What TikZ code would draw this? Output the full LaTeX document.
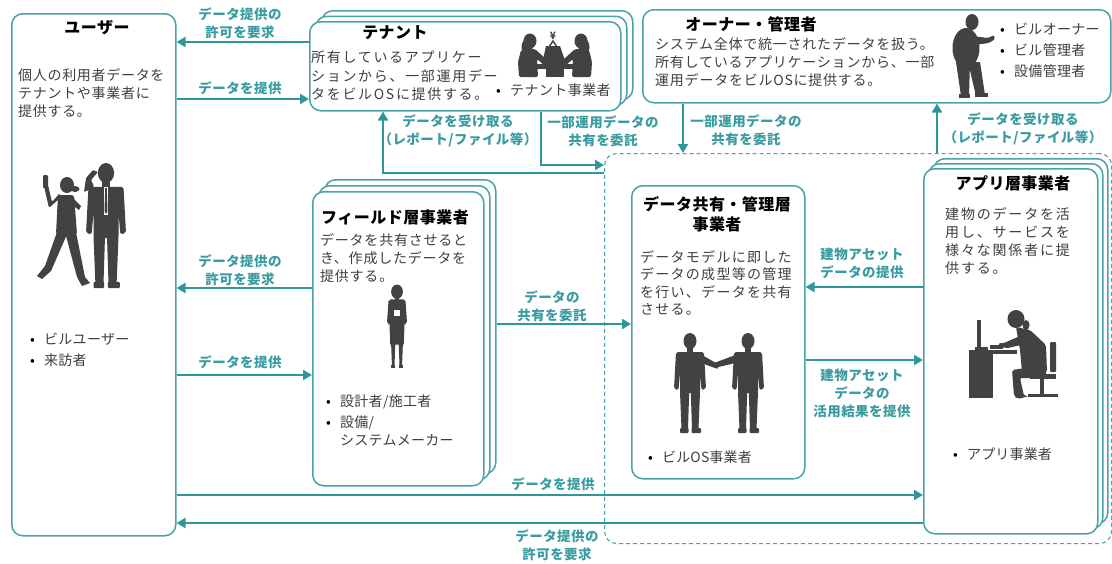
\documentclass[tikz,border=0pt]{standalone}
\usepackage{fontspec}
\setmainfont{Noto Sans CJK JP}
\usetikzlibrary{arrows.meta}

\definecolor{frame}{HTML}{4AA3A8}
\definecolor{flowc}{HTML}{2E979B}
\definecolor{lblc}{HTML}{3A9CA1}
\definecolor{ink}{HTML}{3F3F3F}
\definecolor{figc}{HTML}{424242}

% body text with a little extra tracking
\newcommand{\bodyset}[1]{\fontsize{14}{18}\selectfont\addfontfeatures{LetterSpace=#1}}
% bullet item
\newcommand{\bul}[1]{\makebox[14pt][l]{\textcolor{black}{•}}#1}

\tikzset{
  panel/.style={draw=frame, line width=1.5pt, rounded corners=11pt, fill=white,
    inner sep=0pt, anchor=north west},
  zonebox/.style={draw=frame, line width=1.1pt, dash pattern=on 4pt off 3pt,
    rounded corners=12pt, inner sep=0pt, anchor=north west},
  heading/.style={font=\fontsize{16}{20}\selectfont\bfseries\addfontfeatures{LetterSpace=3},
    text=black, inner sep=0pt, align=center},
  body/.style={text=ink, align=left, inner sep=0pt, anchor=north west},
  lab/.style={font=\fontsize{13.5}{18}\selectfont\bfseries\addfontfeatures{LetterSpace=3.5},
    text=lblc, align=center, inner sep=0pt},
  flow/.style={draw=flowc, line width=2.8pt, -{Triangle[length=9pt,width=10pt]}},
  silhouette/.style={fill=figc},
  % standing man in a suit, 100 units tall, origin at top of head
  man/.pic={
    \fill[silhouette] (0,8) ellipse [x radius=6.5, y radius=8];
    \fill[silhouette] (-3,14) rectangle (3,19);
    \fill[silhouette, rounded corners=2pt] (-14,19) -- (14,19) -- (16,56) -- (11.5,57)
      -- (10,40) -- (10,60) -- (-10,60) -- (-10,40) -- (-11.5,57) -- (-16,56) -- cycle;
    \fill[silhouette] (-10,59) -- (-0.8,59) -- (-2,96) -- (-8.5,96) -- cycle;
    \fill[silhouette] (0.8,59) -- (10,59) -- (8.5,96) -- (2,96) -- cycle;
    \fill[silhouette, rounded corners=1pt] (-10,95) rectangle (-1.5,100);
    \fill[silhouette, rounded corners=1pt] (1.5,95) rectangle (11,100);
  },
  % standing woman in a skirt suit, 100 units tall
  woman/.pic={
    \fill[silhouette] (0,8) ellipse [x radius=7, y radius=8.5];
    \fill[silhouette] (-2.5,14) rectangle (2.5,18);
    \fill[silhouette, rounded corners=2pt] (-10,17) -- (10,17) -- (12,46) -- (8.5,47)
      -- (8,32) -- (9,48) -- (-9,48) -- (-8,32) -- (-8.5,47) -- (-12,46) -- cycle;
    \fill[white] (-4,30) rectangle (3,37);
    \fill[silhouette] (-9,46) -- (9,46) -- (8,71) -- (-8,71) -- cycle;
    \fill[silhouette] (-7,70) -- (-2,70) -- (-3,96) -- (-6,96) -- cycle;
    \fill[silhouette] (2,70) -- (7,70) -- (6,96) -- (3,96) -- cycle;
    \fill[silhouette] (-7,95) rectangle (-2,99);
    \fill[silhouette] (2,95) rectangle (7,99);
  },
}

\begin{document}
\begin{tikzpicture}[x=1pt, y=-1pt]
\useasboundingbox (0,0) rectangle (1112,563);

% ---------- dashed area of the platform layers ----------
\node[zonebox, minimum width=507, minimum height=390] (zone) at (604,153) {};

% ---------- boxes ----------
\node[panel, minimum width=164, minimum height=522] (user) at (11,13) {};

\node[panel, minimum width=311, minimum height=89] (tenant3) at (321,10) {};
\node[panel, minimum width=311, minimum height=89] (tenant2) at (315,15.5) {};
\node[panel, minimum width=311, minimum height=89] (tenant) at (309,21) {};

\node[panel, minimum width=468, minimum height=93] (owner) at (642,9) {};

\node[panel, minimum width=171, minimum height=294] (field3) at (324,179) {};
\node[panel, minimum width=171, minimum height=294] (field2) at (318,185) {};
\node[panel, minimum width=171, minimum height=294] (field) at (312,191) {};

\node[panel, minimum width=173, minimum height=293] (share) at (631,185) {};

\node[panel, minimum width=174, minimum height=365] (app3) at (933,158) {};
\node[panel, minimum width=174, minimum height=365] (app2) at (928,163) {};
\node[panel, minimum width=174, minimum height=365] (app) at (923,168) {};

% ---------- user ----------
\node[heading] (userT) at (97,28) {ユーザー};
\node[body, font=\bodyset{5}] (userB) at (18,68)
  {個人の利用者データを\\テナントや事業者に\\提供する。};
\node[body, font=\bodyset{2}] (userL) at (30,333) {\bul{ビルユーザー}\\[3pt]\bul{来訪者}};

% walking woman
\fill[silhouette] (67,185) ellipse [x radius=7, y radius=8];
\fill[silhouette] (75,189) ellipse [x radius=4.5, y radius=3];
\fill[silhouette, rounded corners=2pt] (58,195) -- (74,195) -- (77,234) -- (56,234) -- cycle;
\fill[silhouette, rounded corners=1.5pt] (60,198) -- (49,208) -- (44,186) -- (48,185)
  -- (52,202) -- (60,193) -- cycle;
\fill[silhouette, rounded corners=1pt] (43,175) rectangle (48,188);
\fill[silhouette] (73,198) -- (81,206) -- (79,210) -- (71,204) -- cycle;
\fill[silhouette] (57,232) -- (68,232) -- (51,271) -- (42,279) -- (37,276) -- (45,266) -- cycle;
\fill[silhouette] (65,232) -- (76,232) -- (85,277) -- (90,283) -- (82,286) -- (77,277) -- cycle;
% man on the phone
\pic[scale=1.25] at (106,163) {man};
\fill[silhouette, rounded corners=1pt] (91,189) -- (84,192) -- (86,178) -- (93,170) -- (98,172)
  -- (91,180) -- (94,186) -- cycle;
\fill[white] (104,187) -- (108,187) -- (108,215) -- (104,215) -- cycle;
\fill[silhouette] (105.2,188) -- (106.8,188) -- (107.5,211) -- (106,214) -- (104.5,211) -- cycle;

% ---------- tenant ----------
\node[heading] (tenantT) at (395,33) {テナント};
\node[body, font=\fontsize{14}{18.5}\selectfont\addfontfeatures{LetterSpace=12}] (tenantB) at (311,51)
  {所有しているアプリケー\\ションから、一部運用デー\\タをビルOSに提供する。};
\node[body, font=\bodyset{3}, anchor=west] (tenantL) at (496,90) {\bul{テナント事業者}};

\node[text=figc, font=\fontsize{10}{10}\selectfont\bfseries, inner sep=0pt] (yen) at (553,36) {¥};
% two seated women at a table
\fill[silhouette] (530,41) ellipse [x radius=6.5, y radius=7.5];
\fill[silhouette] (527,47) ellipse [x radius=5.5, y radius=8];
\fill[silhouette, rounded corners=1.5pt] (521,50) -- (535,49) -- (547,60) -- (544,65)
  -- (537,59) -- (538,77) -- (519,77) -- (518,62) -- cycle;
\fill[silhouette] (581,41) ellipse [x radius=6.5, y radius=7.5];
\fill[silhouette] (584,47) ellipse [x radius=5.5, y radius=8];
\fill[silhouette, rounded corners=1.5pt] (589,50) -- (575,49) -- (563,60) -- (566,65)
  -- (573,59) -- (572,77) -- (591,77) -- (592,62) -- cycle;
\fill[silhouette] (546,46) -- (560,46) -- (566,64) -- (542,64) -- cycle;
\draw[figc, line width=1.5pt] (549,47) -- (553,41) -- (557,47);
\fill[silhouette] (537,64) rectangle (573,68.5);
\fill[silhouette] (546,68) rectangle (564,77);

% ---------- owner ----------
\node[heading] (ownerT) at (751,24) {オーナー・管理者};
\node[body, font=\bodyset{5.5}] (ownerB) at (655,37)
  {システム全体で統一されたデータを扱う。\\所有しているアプリケーションから、一部\\運用データをビルOSに提供する。};
\node[body, font=\fontsize{14}{21}\selectfont\addfontfeatures{LetterSpace=2}] (ownerL) at (1000,23)
  {\bul{ビルオーナー}\\\bul{ビル管理者}\\\bul{設備管理者}};
% standing man gesturing
\fill[silhouette] (972,22) ellipse [x radius=6.5, y radius=8];
\fill[silhouette] (966,48) ellipse [x radius=13.5, y radius=20];
\fill[silhouette, rounded corners=1.5pt] (972,36) -- (988,38) -- (994,35) -- (995,39)
  -- (989,43) -- (974,45) -- cycle;
\fill[silhouette] (956,62) -- (970,62) -- (969,96) -- (961,96) -- cycle;
\fill[silhouette] (968,62) -- (980,62) -- (985,95) -- (976,96) -- cycle;
\fill[silhouette] (959,94) rectangle (970,98);
\fill[silhouette] (975,93) rectangle (988,97);

% ---------- field layer ----------
\node[heading] (fieldT) at (395,217) {フィールド層事業者};
\node[body, font=\bodyset{5.5}] (fieldB) at (320,233)
  {データを共有させると\\き、作成したデータを\\提供する。};
\pic[scale=0.84] at (397,285) {woman};
\node[body, font=\bodyset{2}] (fieldL) at (326,395)
  {\bul{設計者/施工者}\\[3pt]\bul{設備/}\\\hspace*{14pt}システムメーカー};

% ---------- data sharing layer ----------
\node[heading] (shareT) at (717,214) {データ共有・管理層\\事業者};
\node[body, font=\fontsize{14}{17.5}\selectfont\addfontfeatures{LetterSpace=9}] (shareB) at (640,250)
  {データモデルに即した\\データの成型等の管理\\を行い、データを共有\\させる。};
\node[body, font=\bodyset{1}, anchor=west] (shareL) at (648,457) {\bul{ビルOS事業者}};
% handshake
\pic at (690,333) {man};
\pic at (748,333) {man};
\fill[silhouette, rounded corners=1pt] (700,354) -- (718,364) -- (718,369) -- (698,362) -- cycle;
\fill[silhouette, rounded corners=1pt] (738,354) -- (714,363) -- (714,368) -- (740,362) -- cycle;

% ---------- application layer ----------
\node[heading] (appT) at (1013,183) {アプリ層事業者};
\node[body, font=\bodyset{13}] (appB) at (945,207)
  {建物のデータを活\\用し、サービスを\\様々な関係者に提\\供する。};
\node[body, font=\bodyset{1}, anchor=west] (appL) at (953,454) {\bul{アプリ事業者}};
% person working at a desk
\fill[silhouette] (969,350) rectangle (1017,354);
\fill[silhouette] (969,354) rectangle (993,398);
\fill[silhouette] (977,320) rectangle (981,348);
\fill[silhouette] (975,347) rectangle (988,350);
\fill[silhouette] (990,345) rectangle (1003,349);
\fill[silhouette] (1016,319) ellipse [x radius=8.5, y radius=9];
\fill[silhouette] (1026,325) ellipse [x radius=3.5, y radius=5];
\fill[silhouette, rounded corners=2pt] (1016,327) -- (1030,330) -- (1046,345) -- (1047,372)
  -- (1022,372) -- (1020,350) -- cycle;
\fill[silhouette, rounded corners=1pt] (1020,336) -- (1004,343) -- (999,343) -- (999,347)
  -- (1008,348) -- (1025,344) -- cycle;
\fill[silhouette, rounded corners=2pt] (1046,365) -- (1046,378) -- (1020,378) -- (1024,396)
  -- (1029,396) -- (1018,399) -- (1014,396) -- (1012,370) -- cycle;
\fill[silhouette, rounded corners=1pt] (1050,342) -- (1056,342) -- (1056,372) -- (1050,372) -- cycle;
\fill[silhouette] (1030,374) rectangle (1056,379);
\fill[silhouette] (1040,379) rectangle (1044,394);
\fill[silhouette] (1028,394) rectangle (1058,397);

% ---------- row coordinates of the flows ----------
\coordinate (r1) at (0,42);
\coordinate (r2) at (0,99);
\coordinate (c3) at (383,173);
\coordinate (c4) at (541,165);
\coordinate (c5) at (683,0);
\coordinate (c6) at (937,0);
\coordinate (r7) at (0,288);
\coordinate (r8) at (0,375);
\coordinate (r9) at (0,324);
\coordinate (r10) at (0,287);
\coordinate (r11) at (0,360);
\coordinate (r12) at (0,495);
\coordinate (r13) at (0,523);

% ---------- flows ----------
\draw[flow] (tenant.west |- r1) -- (user.east |- r1);
\draw[flow] (user.east |- r2) -- (tenant.west |- r2);
\draw[flow] (zone.west |- c3) -- (c3) -- (tenant.south -| c3);
\draw[flow] (tenant.south -| c4) -- (c4) -- (zone.west |- c4);
\draw[flow] (owner.south -| c5) -- (zone.north -| c5);
\draw[flow] (zone.north -| c6) -- (owner.south -| c6);
\draw[flow] (field.west |- r7) -- (user.east |- r7);
\draw[flow] (user.east |- r8) -- (field.west |- r8);
\draw[flow] (field3.east |- r9) -- (share.west |- r9);
\draw[flow] (app.west |- r10) -- (share.east |- r10);
\draw[flow] (share.east |- r11) -- (app.west |- r11);
\draw[flow] (user.east |- r12) -- (app.west |- r12);
\draw[flow] (app.west |- r13) -- (user.east |- r13);

% ---------- flow labels ----------
\node[lab] (l1) at (240,23) {データ提供の\\許可を要求};
\node[lab] (l2) at (240,88) {データを提供};
\node[lab] (l3) at (458,131) {データを受け取る\\（レポート/ファイル等）};
\node[lab] (l4) at (603,131) {一部運用データの\\共有を委託};
\node[lab] (l5) at (746,130) {一部運用データの\\共有を委託};
\node[lab] (l6) at (1023,129) {データを受け取る\\（レポート/ファイル等）};
\node[lab] (l7) at (240,270) {データ提供の\\許可を要求};
\node[lab] (l8) at (240,362) {データを提供};
\node[lab] (l9) at (552,306) {データの\\共有を委託};
\node[lab] (l10) at (862,263) {建物アセット\\データの提供};
\node[lab] (l11) at (862,393) {建物アセット\\データの\\活用結果を提供};
\node[lab] (l12) at (553,484) {データを提供};
\node[lab] (l13) at (557,545) {データ提供の\\許可を要求};
\end{tikzpicture}
\end{document}
